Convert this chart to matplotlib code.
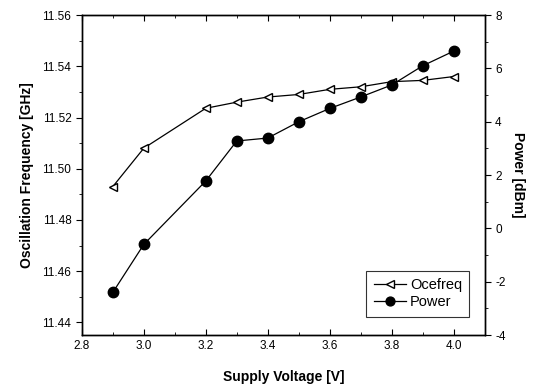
import matplotlib
matplotlib.use("Agg")
import matplotlib.pyplot as plt
from matplotlib.ticker import MultipleLocator

plt.rcParams['font.family'] = ['Liberation Sans', 'DejaVu Sans']
plt.rcParams['axes.unicode_minus'] = False

voltage = [2.9, 3.0, 3.2, 3.3, 3.4, 3.5, 3.6, 3.7, 3.8, 3.9, 4.0]
ocefreq = [11.493, 11.508, 11.5236, 11.526, 11.528, 11.529, 11.531, 11.532, 11.534, 11.5345, 11.536]
power = [-2.4, -0.6, 1.78, 3.28, 3.39, 4.0, 4.5, 4.93, 5.38, 6.1, 6.65]

fig = plt.figure(figsize=(5.38, 3.87), dpi=100)
ax = fig.add_axes([0.152, 0.134, 0.749, 0.827])
ax2 = ax.twinx()

l1, = ax.plot(voltage, ocefreq, color='black', lw=0.9, marker='<', ms=6,
              mfc='white', mec='black', mew=1.0, label='Ocefreq')
l2, = ax2.plot(voltage, power, color='black', lw=0.9, marker='o', ms=7.5,
               mfc='black', mec='black', label='Power')

ax.set_xlim(2.8, 4.1)
ax.set_ylim(11.435, 11.56)
ax2.set_ylim(-4, 8)

ax.xaxis.set_major_locator(MultipleLocator(0.2))
ax.xaxis.set_minor_locator(MultipleLocator(0.1))
ax.yaxis.set_major_locator(MultipleLocator(0.02))
ax.yaxis.set_minor_locator(MultipleLocator(0.01))
ax2.yaxis.set_major_locator(MultipleLocator(2))
ax2.yaxis.set_minor_locator(MultipleLocator(1))

ax.xaxis.set_major_formatter(matplotlib.ticker.FormatStrFormatter('%.1f'))
ax.yaxis.set_major_formatter(matplotlib.ticker.FormatStrFormatter('%.2f'))

ax.tick_params(axis='x', which='both', direction='in', top=True, labelsize=8.5)
ax.tick_params(axis='x', which='major', length=4)
ax.tick_params(axis='x', which='minor', length=2)
ax.tick_params(axis='y', which='major', direction='out', length=4, labelsize=8.5)
ax.tick_params(axis='y', which='minor', direction='out', length=2)
ax2.tick_params(axis='y', which='major', direction='out', length=4, labelsize=8.5)
ax2.tick_params(axis='y', which='minor', direction='out', length=2)

ax.set_xlabel('Supply Voltage [V]', fontsize=10, fontweight='bold', labelpad=13)
ax.set_ylabel('Oscillation Frequency [GHz]', fontsize=10, fontweight='bold', labelpad=6)
ax2.set_ylabel('Power [dBm]', fontsize=10, fontweight='bold', rotation=270, labelpad=14)

for a in (ax, ax2):
    for s in a.spines.values():
        s.set_linewidth(1.0)

leg = ax.legend([l1, l2], ['Ocefreq', 'Power'], loc='lower right',
                bbox_to_anchor=(0.98, 0.035), fontsize=10.5, frameon=True,
                fancybox=False, edgecolor='black', handlelength=2.2,
                borderpad=0.5, labelspacing=0.2, markerscale=0.85,
                handletextpad=0.3)
leg.get_frame().set_linewidth(0.8)

fig.savefig('out.png', dpi=100)
